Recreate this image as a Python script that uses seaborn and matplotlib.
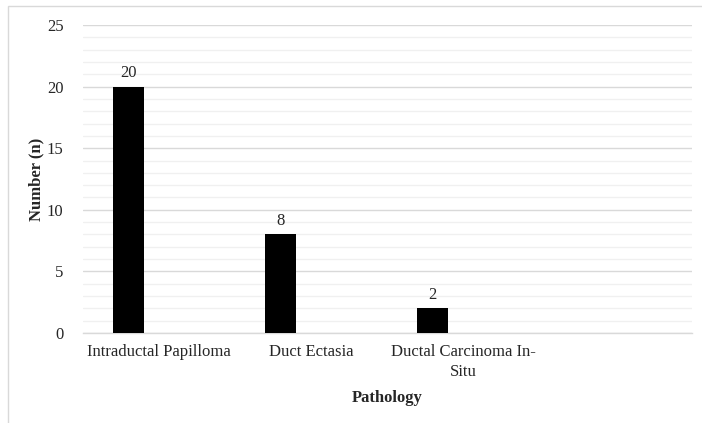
import matplotlib
matplotlib.use("Agg")
import matplotlib.pyplot as plt
from matplotlib.patches import Rectangle
import seaborn as sns
import pandas as pd
import numpy as np

categories = ["Intraductal Papilloma", "Duct Ectasia", "Ductal Carcinoma In-\nSitu"]
counts = [20, 8, 2]
series = ["Series1", "Series2", "Series3"]
y_ticks = [0, 5, 10, 15, 20, 25]

rows = []
for c, v in zip(categories, counts):
    rows.append({"Pathology": c, "series": series[0], "n": v})
    for s in series[1:]:
        rows.append({"Pathology": c, "series": s, "n": 0.0})
df = pd.DataFrame(rows)

sns.set_theme(style="white")
plt.rcParams["font.family"] = ["Liberation Serif", "DejaVu Serif"]

W, H = 702, 423
FS = 12
fig = plt.figure(figsize=(W / 100, H / 100), dpi=100)
ax = fig.add_axes([83 / W, 1 - 333 / H, (692 - 83) / W, (333 - 25) / H])

sns.barplot(data=df, x="Pathology", y="n", hue="series", order=categories,
            hue_order=series, palette=["black", "black", "black"],
            width=0.61, ax=ax, legend=False, errorbar=None,
            saturation=1, linewidth=0, zorder=3)

ax.set_xlim(-0.5, 3.5)
ax.set_ylim(0, 25)
ax.set_yticks(y_ticks)
ax.set_yticklabels([str(t) for t in y_ticks], fontsize=FS, color="#262626")
ax.set_yticks(np.arange(0, 26, 1), minor=True)
ax.tick_params(axis="y", which="both", length=0, pad=14)
ax.tick_params(axis="x", length=0, pad=8, labelsize=FS, labelcolor="#262626")
for lbl in ax.get_xticklabels():
    lbl.set_linespacing(1.35)
ax.grid(axis="y", which="major", color="#d9d9d9", linewidth=1.0, zorder=0)
ax.grid(axis="y", which="minor", color="#f0f0f0", linewidth=1.0, zorder=0)
ax.grid(axis="x", visible=False)
for side in ["top", "right", "left"]:
    ax.spines[side].set_visible(False)
ax.spines["bottom"].set_color("#d9d9d9")
ax.spines["bottom"].set_linewidth(1.0)

# data labels for the filled series
for p in ax.patches:
    h = p.get_height()
    if h > 0:
        ax.annotate(f"{int(h)}", (p.get_x() + p.get_width() / 2, h),
                    xytext=(0, 4), textcoords="offset points",
                    ha="center", va="bottom", fontsize=FS, color="#262626")

ax.set_xlabel("Pathology", fontsize=FS, fontweight="bold", labelpad=7)
ax.set_ylabel("Number (n)", fontsize=FS, fontweight="bold")
ax.yaxis.set_label_coords((44 - 83) / (692 - 83), 0.5)

fig.patches.append(Rectangle((7.5 / W, 0 - 0.01), 1.0, 1 - 6.5 / H + 0.01,
                             transform=fig.transFigure, fill=False,
                             edgecolor="#d9d9d9", linewidth=1.0))

fig.savefig("out.png", dpi=100, facecolor="white")
